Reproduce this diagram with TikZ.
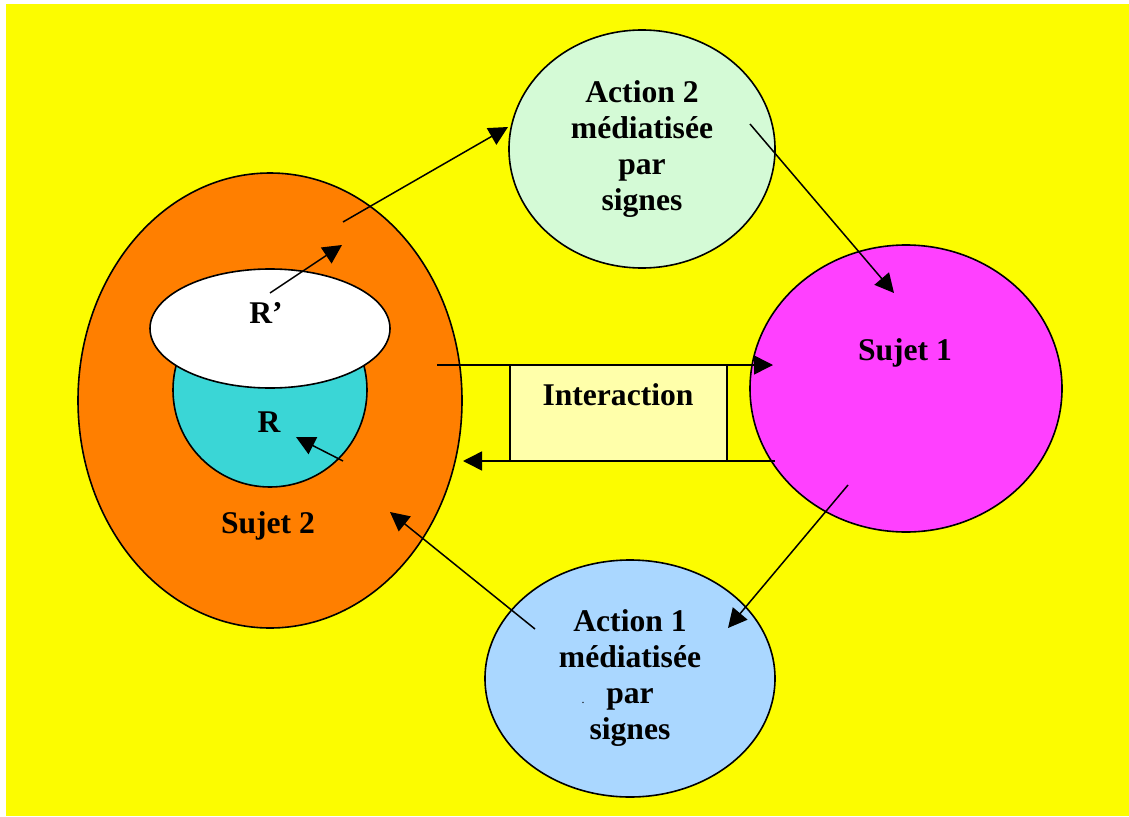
\documentclass[tikz,border=0pt]{standalone}
\usepackage{fontspec}
\setmainfont{Liberation Serif}
\usetikzlibrary{shapes.geometric,arrows.meta}
\definecolor{bgyellow}{RGB}{252,252,0}
\definecolor{sujetorange}{RGB}{255,127,0}
\definecolor{rcyan}{RGB}{58,214,214}
\definecolor{actgreen}{RGB}{212,250,214}
\definecolor{sujmagenta}{RGB}{255,64,255}
\definecolor{actblue}{RGB}{170,215,255}
\definecolor{interfill}{RGB}{255,255,170}
\tikzset{
  blob/.style={ellipse, draw=black, line width=1.6pt, inner sep=0pt, align=center,
    font=\bfseries\fontsize{31.6}{36}\selectfont},
  lbl/.style={font=\bfseries\fontsize{31.6}{36}\selectfont, inner sep=0pt},
  conn/.style={line width=1.5pt, -{Triangle[length=19pt,width=19pt]}},
  interbox/.style={rectangle, draw=black, line width=1.5pt, fill=interfill, inner sep=0pt}
}
\begin{document}
\begin{tikzpicture}[x=1pt,y=-1pt]
\useasboundingbox (0,0) rectangle (1129,816);
\fill[bgyellow] (6,4) rectangle (1129,816);

% shapes
\node[blob, fill=sujetorange, minimum width=384, minimum height=455] (sujet2) at (270,400.5) {};
\node[blob, fill=rcyan, minimum width=194, minimum height=194] (R) at (270,390) {};
\node[blob, fill=white, minimum width=240, minimum height=119] (Rp) at (270,328.5) {};
\node[blob, fill=actgreen, minimum width=266, minimum height=238] (act2) at (642,149)
  {Action 2\\médiatisée\\par\\signes};
\node[blob, fill=actblue, minimum width=290, minimum height=237] (act1) at (630,678.5)
  {Action 1\\médiatisée\\par\\signes};
\node[blob, fill=sujmagenta, minimum width=312, minimum height=287] (sujet1) at (906,388.5) {};
\node[interbox, minimum width=217, minimum height=96] (inter) at (618.5,413) {};

% labels
\node[lbl, anchor=base] (lsujet1) at (905,360) {Sujet 1};
\node[lbl, anchor=base] (lsujet2) at (268,533) {Sujet 2};
\node[lbl, anchor=base] (linter) at (618,405) {Interaction};
\node[lbl, anchor=base] (lRp) at (266,323) {R’};
\node[lbl, anchor=base] (lR) at (269,432) {R};
\node[font=\fontsize{12}{12}\selectfont, inner sep=0pt, anchor=base] (dot) at (583,703) {.};

% connector end points
\coordinate (rpS) at (270,293);
\coordinate (rpE) at (342,245);
\coordinate (s2a) at (343,222);
\coordinate (a2in) at (508,127);
\coordinate (a2out) at (750,124);
\coordinate (s1in) at (894,293);
\coordinate (s1out) at (848,485);
\coordinate (a1in) at (728,628);
\coordinate (a1out) at (535,629);
\coordinate (s2in) at (390,512);
\coordinate (rS) at (343,461);
\coordinate (rE) at (296,437);
\coordinate (itopS) at (437,365);
\coordinate (itopE) at (773,365);
\coordinate (ibotS) at (775,461);
\coordinate (ibotE) at (463,461);

% connectors
\draw[conn] (rpS) -- (rpE);
\draw[conn] (s2a) -- (a2in);
\draw[conn] (a2out) -- (s1in);
\draw[conn] (s1out) -- (a1in);
\draw[conn] (a1out) -- (s2in);
\draw[conn] (rS) -- (rE);
\draw[conn] (itopS) -- (itopE);
\draw[conn] (ibotS) -- (ibotE);
\end{tikzpicture}
\end{document}
